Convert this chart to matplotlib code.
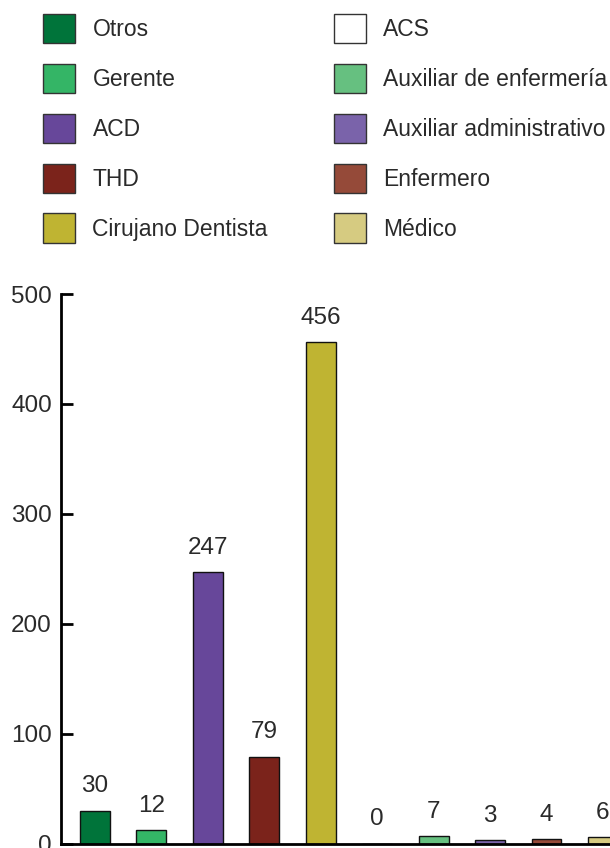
"""
Distribución de profesionales por categoría (gráfico de barras)
"""

import matplotlib
matplotlib.use("Agg")
import matplotlib.pyplot as plt
from matplotlib.patches import Patch
import numpy as np

# datos
categorias = ["Otros", "Gerente", "ACD", "THD", "Cirujano Dentista",
              "ACS", "Auxiliar de enfermería", "Auxiliar administrativo",
              "Enfermero", "Médico"]
valores = [30, 12, 247, 79, 456, 0, 7, 3, 4, 6]
colores = ["#00743a", "#34b566", "#67479a", "#7b231b", "#bfb432",
           "#ffffff", "#66c080", "#7a63aa", "#954a39", "#d6cb81"]
yticks = [0, 100, 200, 300, 400, 500]

plt.rcParams["font.family"] = ["Liberation Sans", "DejaVu Sans"]
texto = "#2a2a2a"

fig = plt.figure(figsize=(6.1, 8.48), dpi=100)
ax = fig.add_axes([0.1, 0.0053, 0.9, 0.648])

x = np.arange(len(valores))
barras = ax.bar(x, valores, width=0.53, color=colores,
                edgecolor="#111111", linewidth=1.0, zorder=2)
ax.bar_label(barras, labels=[str(v) for v in valores], padding=9.5,
             fontsize=17.5, color=texto)

ax.set_ylim(0, 500)
ax.set_xlim(-0.602, 9.125)
ax.set_yticks(yticks)
ax.set_xticks([])
ax.tick_params(axis="y", direction="in", length=8.6, width=2,
               labelsize=17.5, labelcolor=texto, pad=6.5)
for lado in ["top", "right"]:
    ax.spines[lado].set_visible(False)
for lado in ["left", "bottom"]:
    ax.spines[lado].set_linewidth(2)
ax.patch.set_visible(False)

# leyenda en dos columnas
manijas = [Patch(facecolor=c, edgecolor="#333333", linewidth=1.0)
           for c in colores]
fig.legend(manijas, categorias, ncol=2, loc="upper left",
           bbox_to_anchor=(43 / 610, 1 - 14 / 848), frameon=False,
           fontsize=16.5, handlelength=1.4, handleheight=1.6,
           handletextpad=0.76, labelspacing=0.89, columnspacing=2.87,
           borderpad=0, borderaxespad=0, labelcolor=texto)

fig.savefig("out.png", dpi=100)
